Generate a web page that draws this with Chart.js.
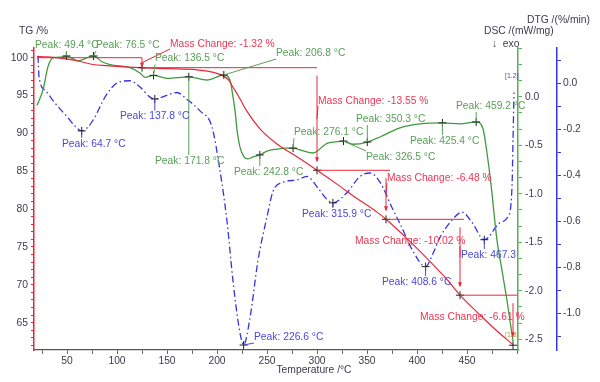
<!DOCTYPE html>
<html><head><meta charset="utf-8">
<script src="https://cdn.jsdelivr.net/npm/chart.js@4/dist/chart.umd.min.js"></script>
<style>html,body{margin:0;padding:0;background:#fff;}#wrap{width:600px;height:382px;}</style>
</head><body><div id="wrap"><canvas id="c" width="600" height="382"></canvas></div>
<script>
// ---------- data ----------
const tgTemp = [20,30,45,60,76,90,100,123,150,180,195,206,212,216,222,230,243,260,280,300,320,340,360,369,390,410,430,443,460,480,496];
const tgMass = [100.15,100.1,99.9,99.6,99.1,98.95,98.85,98.68,98.55,98.4,98.1,97.6,97.0,96.1,94.8,92.9,90.6,88.6,86.9,85.13,83.3,81.4,79.6,78.65,76.1,73.5,70.7,68.63,66.4,63.9,62.1];

const dscTemp = [20,26,31,36,46,49.4,61,76.5,85,93,113,123,128,136.5,150,171.8,190,206.8,213,216,218,220,223,227,231,236,242.8,250,260,268,276.1,284,296,310,318,326.5,336,350.3,363,383,403,425.4,443,459.2,466,470,474,477,480,485,490,496];
const dscValue = [-0.09,0.07,0.31,0.40,0.41,0.42,0.37,0.42,0.36,0.33,0.30,0.245,0.20,0.22,0.19,0.205,0.172,0.224,0.172,0.0,-0.14,-0.34,-0.52,-0.62,-0.64,-0.62,-0.60,-0.56,-0.54,-0.53,-0.53,-0.55,-0.58,-0.48,-0.465,-0.457,-0.49,-0.467,-0.415,-0.32,-0.28,-0.27,-0.28,-0.26,-0.33,-0.58,-0.90,-1.20,-1.48,-1.79,-2.10,-2.52];

const dtgTemp = [21,22,28,38,50,58,64.7,71,78,88,100,113,123,133,137.8,150,160,170,183,195,203,210,216,222,226.6,233,241,250,256,266,280,290,300,310,315.9,330,343,353,363,376,383,396,408.6,416,423,435,445,455,467.3,483,491,495,496,497];
const dtgValue = [0.12,0.03,-0.03,-0.086,-0.145,-0.186,-0.207,-0.19,-0.146,-0.06,0.001,0.011,-0.016,-0.06,-0.068,-0.052,-0.040,-0.07,-0.12,-0.19,-0.38,-0.60,-0.86,-1.06,-1.138,-1.02,-0.77,-0.58,-0.47,-0.43,-0.42,-0.405,-0.45,-0.505,-0.52,-0.475,-0.405,-0.39,-0.43,-0.55,-0.61,-0.73,-0.797,-0.74,-0.67,-0.595,-0.56,-0.605,-0.68,-0.607,-0.58,-0.45,-0.25,-0.04];

const dscPeakTemp  = [49.4,76.5,136.5,171.8,206.8,242.8,276.1,326.5,350.3,425.4,459.2];
const dscPeakValue = [0.42,0.42,0.22,0.205,0.224,-0.60,-0.53,-0.457,-0.467,-0.27,-0.26];
const dscLabelTemp  = [18,79,138,138,259,217,277,349,339,393,439];
const dscLabelValue = [0.533,0.533,0.394,-0.663,0.45,-0.776,-0.364,-0.621,-0.23,-0.457,-0.096];

const dtgPeakTemp  = [64.7,137.8,226.6,315.9,408.6,467.3];
const dtgPeakValue = [-0.207,-0.068,-1.138,-0.52,-0.797,-0.68];
const dtgLabelText = ['Peak: 64.7 °C','Peak: 137.8 °C','Peak: 226.6 °C','Peak: 315.9 °C','Peak: 408.6 °C','Peak: 467.3'];
const dtgLabelTemp  = [45,103,237,285,365,444];
const dtgLabelValue = [-0.264,-0.145,-1.103,-0.568,-0.864,-0.746];

const massStepTemp = [20,125,300,369,443,496];
const massLevel    = [100,98.68,85.13,78.65,68.63,62.02];
const massChange   = [-1.32,-13.55,-6.48,-10.02,-6.61];
const massLabelTemp  = [153,301,370,338,403];
const massLabelLevel = [101.81,94.27,84.09,75.75,65.71];

const xTickLabels = [50,100,150,200,250,300,350,400,450];
const tgTickLabels = [65,70,75,80,85,90,95,100];
const dscTickLabels = [0,-0.5,-1,-1.5,-2,-2.5];
const dtgTickLabels = [0,-0.2,-0.4,-0.6,-0.8,-1];

// ---------- styles ----------
const RED='#e8283a', RED_T='#ee3552', GREEN='#3f9a3f', GREEN_T='#58a058', GREEN_AX='#55b055';
const BLUE='#3434e0', BLUE_T='#4a48d8', TXT='#3c3c4c';
const FAM='"Liberation Sans", Arial, "DejaVu Sans", sans-serif';
const FS=10.3, FONT=FS+'px '+FAM;

function pts(xs,ys){return xs.map((v,i)=>({x:v,y:ys[i]}));}
function makeTicks(min,max,step){const o=[];const s=Math.ceil(min/step-1e-6),e=Math.floor(max/step+1e-6);for(let k=s;k<=e;k++)o.push({value:+(k*step).toFixed(6)});return o;}
function isIn(arr,v){return arr.some(a=>Math.abs(a-v)<1e-6);}

const annot={
  id:'annot',
  afterDatasetsDraw(chart){
    const {ctx,scales}=chart; const x=scales.x, yT=scales.yTG, yS=scales.yDSC, yD=scales.yDTG;
    ctx.save(); ctx.font=FONT; ctx.textBaseline='middle'; ctx.lineWidth=1;
    const line=(a,b,c,d)=>{ctx.beginPath();ctx.moveTo(a,b);ctx.lineTo(c,d);ctx.stroke();};
    // mass change steps
    ctx.strokeStyle=RED; ctx.fillStyle=RED;
    for(let i=0;i<massChange.length;i++){
      const x0=x.getPixelForValue(massStepTemp[i]), x1=x.getPixelForValue(massStepTemp[i+1]);
      const yA=yT.getPixelForValue(massLevel[i]), yB=yT.getPixelForValue(massLevel[i+1]);
      line(x0,yA,x1+(i>=2?4:0),yA);
      const g=(yB-yA)>25?8:0;
      line(x1,yA+g,x1,yB-g-1);
      ctx.beginPath();ctx.moveTo(x1,yB-g);ctx.lineTo(x1-2,yB-g-5);ctx.lineTo(x1+2,yB-g-5);ctx.closePath();ctx.fill();
      // label
      const txt='Mass Change: '+massChange[i].toFixed(2)+' %';
      const lx=x.getPixelForValue(massLabelTemp[i]), ly=yT.getPixelForValue(massLabelLevel[i]);
      const w=ctx.measureText(txt).width;
      const mx=x1, my=(yA+yB)/2;
      const cx=Math.min(Math.max(mx,lx),lx+w), cy=Math.min(Math.max(my,ly-5),ly+5);
      if(Math.hypot(cx-mx,cy-my)>6) line(cx,cy,mx,my);
      ctx.fillStyle=RED_T; ctx.textAlign='left'; ctx.fillText(txt,lx,ly); ctx.fillStyle=RED;
    }
    // peak labels
    const peakLabels=(pT,pV,lT,lV,texts,scale,col)=>{
      ctx.strokeStyle=col; ctx.fillStyle=col;
      for(let i=0;i<pT.length;i++){
        const px=x.getPixelForValue(pT[i]), py=scale.getPixelForValue(pV[i]);
        const lx=x.getPixelForValue(lT[i]), ly=scale.getPixelForValue(lV[i]);
        const w=ctx.measureText(texts[i]).width;
        const cx=Math.min(Math.max(px,lx),lx+w), cy=Math.min(Math.max(py,ly-6),ly+6);
        line(px,py,cx,cy);
        ctx.textAlign='left'; ctx.fillText(texts[i],lx,ly);
      }
    };
    peakLabels(dscPeakTemp,dscPeakValue,dscLabelTemp,dscLabelValue,dscPeakTemp.map(t=>'Peak: '+t.toFixed(1)+' °C'),yS,GREEN_T);
    peakLabels(dtgPeakTemp,dtgPeakValue,dtgLabelTemp,dtgLabelValue,dtgLabelText,yD,BLUE_T);
    // small curve tags
    ctx.font='7px '+FAM;
    ctx.fillStyle=BLUE_T; ctx.fillText('[1.2]',x.getPixelForValue(488),yD.getPixelForValue(0.032));
    ctx.fillStyle='#b0a040'; ctx.fillText('[1.3]',x.getPixelForValue(488),yS.getPixelForValue(-2.456));
    ctx.restore();
  },
  afterDraw(chart){
    const {ctx,scales}=chart; const x=scales.x;
    ctx.save(); ctx.font=FONT; ctx.textBaseline='middle'; ctx.fillStyle=TXT; ctx.textAlign='left';
    ctx.fillText('TG /%',19,31.5);
    ctx.fillText('DTG /(%/min)',527,20.5);
    ctx.fillText('DSC /(mW/mg)',484,31.5);
    ctx.fillText('\u2193  exo',492,44);
    ctx.textAlign='center';
    ctx.fillText('Temperature /°C',x.getPixelForValue(297),370);
    ctx.restore();
  }
};

const tickFont={family:FAM,size:FS};
const cfg={
  type:'line',
  data:{datasets:[
    {label:'TG',data:pts(tgTemp,tgMass),yAxisID:'yTG',borderColor:RED,borderWidth:1.2,pointRadius:0,cubicInterpolationMode:'monotone',order:2},
    {label:'DSC',data:pts(dscTemp,dscValue),yAxisID:'yDSC',borderColor:GREEN,borderWidth:1.3,pointRadius:0,cubicInterpolationMode:'monotone',order:3},
    {label:'DTG',data:pts(dtgTemp,dtgValue),yAxisID:'yDTG',borderColor:BLUE,borderWidth:1.3,borderDash:[7,3,1.5,3],pointRadius:0,cubicInterpolationMode:'monotone',order:4},
    {label:'DSC peaks',data:pts(dscPeakTemp,dscPeakValue),yAxisID:'yDSC',showLine:false,pointStyle:'cross',pointRadius:4,borderColor:'#222',borderWidth:1,order:1},
    {label:'DTG peaks',data:pts(dtgPeakTemp,dtgPeakValue),yAxisID:'yDTG',showLine:false,pointStyle:'cross',pointRadius:4,borderColor:'#222',borderWidth:1,order:1},
    {label:'Steps',data:pts(massStepTemp.slice(1),massLevel.slice(1)),yAxisID:'yTG',showLine:false,pointStyle:'cross',pointRadius:4,borderColor:'#222',borderWidth:1,order:1}
  ]},
  options:{
    responsive:false,animation:false,
    layout:{padding:{top:48,left:0,right:0,bottom:0}},
    plugins:{legend:{display:false},tooltip:{enabled:false}},
    scales:{
      x:{type:'linear',position:'bottom',min:17,max:501,
        afterBuildTicks(s){s.ticks=makeTicks(17,501,25);},
        afterFit(s){s.height=32;},
        grid:{drawOnChartArea:false,drawTicks:true,tickLength:4,color:'#666'},
        border:{color:'#555',width:1.3},
        ticks:{autoSkip:false,maxRotation:0,padding:1,color:TXT,font:tickFont,callback:v=>isIn(xTickLabels,v)?String(v):''}},
      yTG:{type:'linear',position:'left',min:61.39,max:101.28,
        afterBuildTicks(s){s.ticks=makeTicks(61.39,101.28,1);},
        afterFit(s){s.width=34;},
        grid:{drawOnChartArea:false,drawTicks:true,tickLength:3,color:RED},
        border:{color:RED,width:1.5},
        ticks:{autoSkip:false,padding:3,color:TXT,font:tickFont,callback:v=>isIn(tgTickLabels,v)?String(v):''}},
      yDSC:{type:'linear',position:'right',min:-2.61,max:0.502,
        afterBuildTicks(s){s.ticks=makeTicks(-2.61,0.502,1/6);},
        afterFit(s){s.width=39;},
        grid:{drawOnChartArea:false,drawTicks:true,tickLength:4,color:GREEN_AX},
        border:{color:GREEN_AX,width:1.5},
        ticks:{autoSkip:false,padding:3,color:TXT,font:tickFont,callback:v=>isIn(dscTickLabels,v)?v.toFixed(1):''}},
      yDTG:{type:'linear',position:'right',min:-1.1596,max:0.1535,
        afterBuildTicks(s){s.ticks=makeTicks(-1.1596,0.1535,0.1);},
        afterFit(s){s.width=43;},
        grid:{drawOnChartArea:false,drawTicks:true,tickLength:4,color:BLUE},
        border:{color:BLUE,width:1.5},
        ticks:{autoSkip:false,padding:2,color:TXT,font:tickFont,callback:v=>isIn(dtgTickLabels,v)?v.toFixed(1):''}}
    }
  },
  plugins:[annot]
};
new Chart(document.getElementById('c'),cfg);
</script></body></html>
